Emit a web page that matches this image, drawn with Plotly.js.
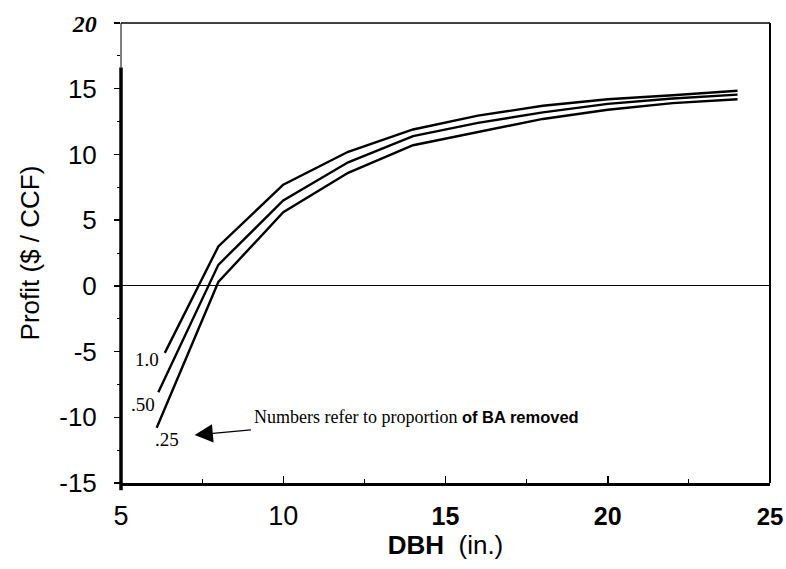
<!DOCTYPE html>
<html>
<head>
<meta charset="utf-8">
<script src="https://cdn.plot.ly/plotly-3.0.1.min.js"></script>
<style>html,body{margin:0;padding:0;background:#fff;}#chart{width:786px;height:569px;}</style>
</head>
<body>
<div id="chart"></div>
<script>
// Data
const dbh_100 = [6.35, 8, 10, 12, 14, 16, 18, 20, 22, 24];
const profit_100 = [-5.1, 3.0, 7.7, 10.2, 11.9, 12.95, 13.7, 14.2, 14.5, 14.85];
const dbh_050 = [6.15, 8, 10, 12, 14, 16, 18, 20, 22, 24];
const profit_050 = [-8.1, 1.6, 6.5, 9.4, 11.4, 12.4, 13.2, 13.85, 14.25, 14.55];
const dbh_025 = [6.1, 8, 10, 12, 14, 16, 18, 20, 22, 24];
const profit_025 = [-10.8, 0.3, 5.6, 8.6, 10.7, 11.7, 12.7, 13.4, 13.9, 14.2];
const seriesLabels = ['1.0', '.50', '.25'];

const xTickVals = [5, 10, 15, 20, 25];
const xTickText = ['5', '10',
  '<span style="font-size:25px"><b>15</b></span>',
  '<span style="font-size:25px"><b>20</b></span>',
  '<span style="font-size:24px"><b>25</b></span>'];
const yTickVals = [-15, -10, -5, 0, 5, 10, 15, 20];
const yTickText = ['-15', '-10', '-5', '0', '5', '10', '15',
  '<span style="font-family:\'Liberation Serif\',serif;font-size:24px"><b><i>20</i></b></span>'];

const lineStyle = {color: '#000', width: 2.4};
const traces = [
  {x: dbh_100, y: profit_100, name: seriesLabels[0], mode: 'lines', line: lineStyle},
  {x: dbh_050, y: profit_050, name: seriesLabels[1], mode: 'lines', line: lineStyle},
  {x: dbh_025, y: profit_025, name: seriesLabels[2], mode: 'lines', line: lineStyle}
];

const serif = 'Liberation Serif, Times New Roman, serif';
const sans = 'Liberation Sans, Arial, sans-serif';

const layout = {
  width: 786, height: 569,
  margin: {l: 121, r: 16, t: 23, b: 86},
  paper_bgcolor: '#fff', plot_bgcolor: '#fff',
  showlegend: false,
  font: {family: sans, color: '#000'},
  xaxis: {
    range: [5, 25], tickvals: xTickVals, ticktext: xTickText,
    showgrid: false, zeroline: false,
    showline: true, linecolor: '#000', linewidth: 2.5,
    ticks: 'inside', ticklen: 7, tickwidth: 1.5, tickcolor: '#000',
    minor: {dtick: 2.5, tick0: 5, ticks: 'inside', ticklen: 4, tickwidth: 1, tickcolor: '#000'},
    tickfont: {family: sans, size: 27, color: '#000'},
    ticklabelstandoff: 7,
    ticklabeloverflow: 'allow',
    title: {text: '<b>DBH</b>  (in.)', font: {family: sans, size: 26, color: '#000'}, standoff: 4}
  },
  yaxis: {
    range: [-15, 20], tickvals: yTickVals, ticktext: yTickText,
    showgrid: false, showline: false,
    zeroline: true, zerolinecolor: '#000', zerolinewidth: 1.2,
    ticks: 'outside', ticklen: 6, tickwidth: 1.5, tickcolor: '#000',
    minor: {dtick: 2.5, tick0: -15, ticks: 'outside', ticklen: 3, tickwidth: 1, tickcolor: '#000'},
    tickfont: {family: sans, size: 26, color: '#000'},
    ticklabelstandoff: 12,
    ticklabeloverflow: 'allow',
    title: {text: 'Profit ($ / CCF)', font: {family: sans, size: 26, color: '#000'}, standoff: 12}
  },
  shapes: [
    {type: 'line', xref: 'paper', yref: 'paper', x0: 0, x1: 0, y0: -0.016, y1: 0.903, line: {color: '#000', width: 3.5}},
    {type: 'line', xref: 'paper', yref: 'paper', x0: 0, x1: 0, y0: 0.903, y1: 1, line: {color: '#000', width: 1}},
    {type: 'line', xref: 'paper', yref: 'paper', x0: 0, x1: 1, y0: 1, y1: 1, line: {color: '#000', width: 1.5}},
    {type: 'line', xref: 'paper', yref: 'paper', x0: 1, x1: 1, y0: 0, y1: 1, line: {color: '#000', width: 2}}
  ],
  annotations: [
    {x: 5.8, y: -5.6, text: seriesLabels[0], showarrow: false, font: {family: serif, size: 19, color: '#000'}},
    {x: 5.67, y: -9.0, text: seriesLabels[1], showarrow: false, font: {family: serif, size: 19, color: '#000'}},
    {x: 6.41, y: -11.7, text: seriesLabels[2], showarrow: false, font: {family: serif, size: 19, color: '#000'}},
    {x: 9.05, y: -10.0, xanchor: 'left', text: 'Numbers refer to proportion <span style="font-family:\'Liberation Sans\',Arial,sans-serif;font-size:16.5px"><b>of BA removed</b></span>',
     showarrow: false, font: {family: serif, size: 18, color: '#000'}},
    {x: 7.27, y: -11.35, ax: 9.05, ay: -10.95, axref: 'x', ayref: 'y', text: '', showarrow: true,
     arrowhead: 2, arrowsize: 2.8, arrowwidth: 1.3, arrowcolor: '#000', standoff: 0, startstandoff: 0}
  ]
};

Plotly.newPlot('chart', traces, layout, {displayModeBar: false, staticPlot: true});
</script>
</body>
</html>
